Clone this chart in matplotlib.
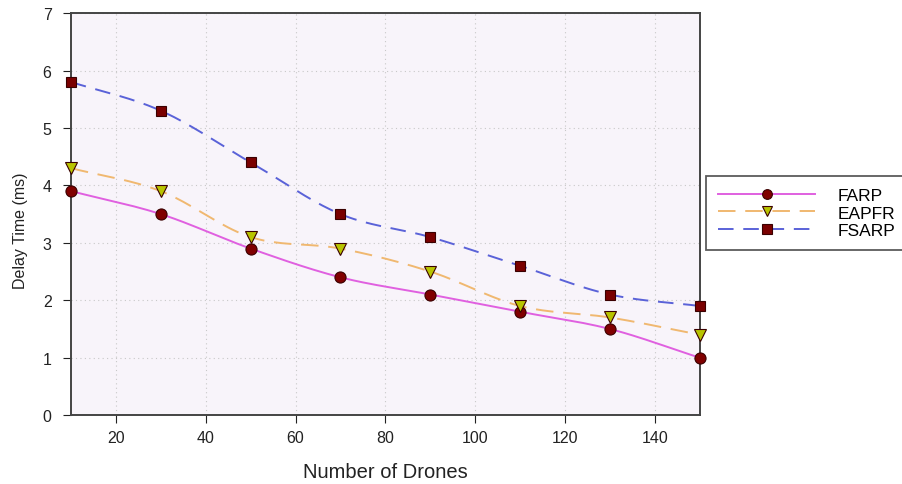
import numpy as np
import matplotlib.pyplot as plt

plt.rcParams['font.family'] = ['Liberation Sans', 'DejaVu Sans']

# Data
drones = [10, 30, 50, 70, 90, 110, 130, 150]
farp = [3.9, 3.5, 2.9, 2.4, 2.1, 1.8, 1.5, 1.0]
eapfr = [4.3, 3.9, 3.1, 2.9, 2.5, 1.9, 1.7, 1.4]
fsarp = [5.8, 5.3, 4.4, 3.5, 3.1, 2.6, 2.1, 1.9]
series_names = ['FARP', 'EAPFR', 'FSARP']


def smooth_curve(x, y, n=20):
    # Catmull-Rom path through the points, only for drawing the line
    x = np.asarray(x, float)
    y = np.asarray(y, float)
    px = np.concatenate([[2 * x[0] - x[1]], x, [2 * x[-1] - x[-2]]])
    py = np.concatenate([[2 * y[0] - y[1]], y, [2 * y[-1] - y[-2]]])
    t = np.linspace(0, 1, n, endpoint=False)
    xs, ys = [], []
    for i in range(1, len(px) - 2):
        for arr, out in ((px, xs), (py, ys)):
            p0, p1, p2, p3 = arr[i - 1], arr[i], arr[i + 1], arr[i + 2]
            out.extend(0.5 * (2 * p1 + (-p0 + p2) * t
                              + (2 * p0 - 5 * p1 + 4 * p2 - p3) * t ** 2
                              + (-p0 + 3 * p1 - 3 * p2 + p3) * t ** 3))
    xs.append(x[-1])
    ys.append(y[-1])
    return np.array(xs), np.array(ys)


fig = plt.figure(figsize=(9.02, 4.85), dpi=100)
ax = fig.add_axes([0.0787, 0.142, 0.697, 0.829])
ax.set_facecolor('#f8f4fa')

styles = [
    dict(color='#e060e0', ls='-', marker='o', mfc='#800000', ms=8),
    dict(color='#f0b870', ls=(0, (9, 5)), marker='v', mfc='#b8c400', ms=8.5),
    dict(color='#5a62d8', ls=(0, (8, 5)), marker='s', mfc='#7a0000', ms=7.5),
]
handles = []
for name, ys, st in zip(series_names, [farp, eapfr, fsarp], styles):
    sx, sy = smooth_curve(drones, ys)
    ax.plot(sx, sy, color=st['color'], ls=st['ls'], lw=1.4, zorder=2)
    ax.plot(drones, ys, ls='none', marker=st['marker'], ms=st['ms'],
            mfc=st['mfc'], mec='#3a0000', mew=0.8, zorder=3, clip_on=False)
    h, = ax.plot([], [], color=st['color'], ls=st['ls'], lw=1.4,
                 marker=st['marker'], ms=st['ms'] - 1, mfc=st['mfc'],
                 mec='#3a0000', mew=0.8, label=name)
    handles.append(h)

ax.set_xlim(10, 150)
ax.set_ylim(0, 7)
ax.set_xticks([20, 40, 60, 80, 100, 120, 140])
ax.set_yticks(range(0, 8))
ax.grid(True, ls=(0, (1, 3)), color='#c8c8c8', lw=0.8)
ax.tick_params(direction='out', length=6, labelsize=11.5, colors='#222222')
ax.tick_params(axis='x', pad=5)
ax.tick_params(axis='y', pad=8)
for s in ax.spines.values():
    s.set_color('#444444')
    s.set_linewidth(1.4)
ax.set_xlabel('Number of Drones', fontsize=14.5, labelpad=12, color='#222222')
ax.set_ylabel('Delay Time (ms)', fontsize=11.5, color='#222222')
ax.yaxis.set_label_coords(-0.068, 0.46)

leg = fig.legend(handles=handles, loc='upper left',
                 bbox_to_anchor=(706 / 902, 1 - 177 / 485), handlelength=5.6,
                 handletextpad=1.3, fontsize=12.5, frameon=True,
                 fancybox=False, borderpad=0.7, labelspacing=0.12,
                 edgecolor='#333333', borderaxespad=0)
leg.get_frame().set_linewidth(1.3)

fig.savefig('out.png', dpi=100)
